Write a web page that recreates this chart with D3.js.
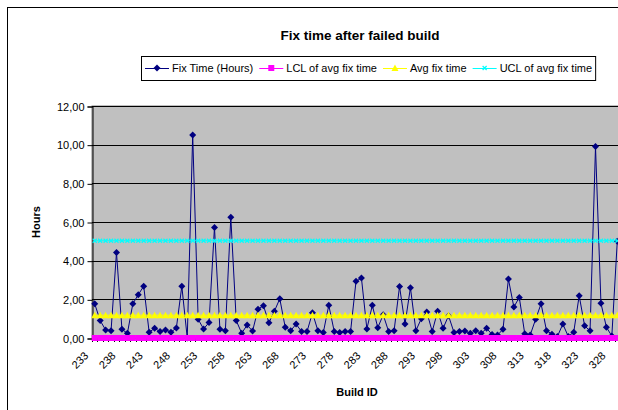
<!DOCTYPE html>
<html>
<head>
<meta charset="utf-8">
<script src="https://cdn.jsdelivr.net/npm/d3@7"></script>
<style>
  html, body { margin: 0; padding: 0; background: #fff; }
  svg { display: block; font-family: "Liberation Sans", Arial, sans-serif; }
</style>
</head>
<body>
<svg id="chart" width="618" height="410"></svg>
<script>
// Build IDs 233..329
const buildIds = d3.range(233, 330);

// Hours needed to fix each failed build
const fixHours = [
  1.77, 0.90, 0.42, 0.38, 4.42, 0.45, 0.24, 1.77, 2.24, 2.68,
  0.30, 0.50, 0.33, 0.42, 0.30, 0.52, 2.68, 0.00, 10.50, 0.97,
  0.47, 0.80, 5.72, 0.45, 0.38, 6.24, 0.90, 0.25, 0.67, 0.36,
  1.49, 1.67, 0.79, 1.38, 2.03, 0.55, 0.38, 0.72, 0.33, 0.33,
  1.30, 0.38, 0.29, 1.69, 0.34, 0.29, 0.33, 0.33, 2.93, 3.10,
  0.47, 1.69, 0.53, 1.20, 0.33, 0.38, 2.67, 0.72, 2.60, 0.38,
  1.00, 1.35, 0.34, 1.38, 0.50, 1.15, 0.29, 0.33, 0.36, 0.24,
  0.38, 0.24, 0.50, 0.18, 0.15, 0.45, 3.05, 1.60, 2.10, 0.22,
  0.15, 0.97, 1.77, 0.38, 0.20, 0.08, 0.72, 0.08, 0.30, 2.19,
  0.63, 0.37, 9.90, 1.80, 0.56, 0.10, 5.00
];

// Control limits (constant across builds)
const lclValue = 0.00;
const avgValue = 1.18;
const uclValue = 5.03;

const yTicks = [0, 2, 4, 6, 8, 10, 12];
const xLabelEvery = 5;

const seriesNames = ["Fix Time (Hours)", "LCL of avg fix time", "Avg fix time", "UCL of avg fix time"];
const seriesColors = ["#000080", "#FF00FF", "#FFFF00", "#00FFFF"];

const svg = d3.select("#chart");

// Chart frame
svg.append("rect")
  .attr("x", 7.5).attr("y", 7.5)
  .attr("width", 700).attr("height", 500)
  .attr("fill", "#fff").attr("stroke", "#000").attr("stroke-width", 1);

const plot = { left: 92, right: 620, top: 106, bottom: 338 };

const x = d3.scaleBand().domain(buildIds).range([plot.left, plot.right]).paddingInner(0).paddingOuter(0);
const cx = d => x(d) + x.bandwidth() / 2;
const y = d3.scaleLinear().domain([0, 12]).range([plot.bottom, plot.top]);

// Plot area
svg.append("rect")
  .attr("x", plot.left).attr("y", plot.top)
  .attr("width", plot.right - plot.left).attr("height", plot.bottom - plot.top)
  .attr("fill", "#C0C0C0").attr("stroke", "#808080").attr("stroke-width", 1);

// Horizontal gridlines
svg.append("g").selectAll("line")
  .data(yTicks.filter(t => t > 0))
  .join("line")
  .attr("x1", plot.left).attr("x2", plot.right)
  .attr("y1", d => Math.round(y(d)) + 0.5).attr("y2", d => Math.round(y(d)) + 0.5)
  .attr("stroke", "#000").attr("stroke-width", 1);

// Y axis
const yAxis = d3.axisLeft(y)
  .tickValues(yTicks)
  .tickSize(5)
  .tickPadding(3)
  .tickFormat(d => d3.format(".2f")(d).replace(".", ","));
const gy = svg.append("g")
  .attr("transform", `translate(${plot.left + 0.5},0.5)`)
  .call(yAxis);
gy.select(".domain").attr("stroke", "#000");
gy.selectAll(".tick line").attr("stroke", "#000");
gy.selectAll(".tick text").attr("font-size", 11).attr("fill", "#000")
  .attr("font-family", "Liberation Sans, Arial, sans-serif");

// X axis line and ticks at category boundaries
const gx = svg.append("g");
gx.append("line")
  .attr("x1", plot.left).attr("x2", plot.right)
  .attr("y1", plot.bottom + 0.5).attr("y2", plot.bottom + 0.5)
  .attr("stroke", "#000");
gx.selectAll("line.tick")
  .data(buildIds)
  .join("line")
  .attr("class", "tick")
  .attr("x1", d => Math.round(x(d)) + 0.5).attr("x2", d => Math.round(x(d)) + 0.5)
  .attr("y1", plot.bottom).attr("y2", plot.bottom + 4)
  .attr("stroke", "#000");
gx.selectAll("text")
  .data(buildIds.filter((d, i) => i % xLabelEvery === 0))
  .join("text")
  .attr("transform", d => `translate(${cx(d) - 11},${plot.bottom + 13}) rotate(-45)`)
  .attr("text-anchor", "end")
  .attr("dy", "0.7em")
  .attr("font-size", 11)
  .text(d => d);

// Series data
const fixData = buildIds.map((b, i) => ({ b, v: fixHours[i] }));
const flat = v => buildIds.map(b => ({ b, v }));
const line = d3.line().x(d => cx(d.b)).y(d => y(d.v));

// Marker shapes
const diamond = "M0,-3.5L3.5,0L0,3.5L-3.5,0Z";
const square = "M-3,-3H3V3H-3Z";
const triangle = "M0,-3.5L3.5,3L-3.5,3Z";
const cross = "M-2,-2L2,2M-2,2L2,-2";

function drawSeries(data, color, shape, filled) {
  const g = svg.append("g");
  g.append("path").datum(data).attr("d", line)
    .attr("fill", "none").attr("stroke", color).attr("stroke-width", 1);
  g.selectAll("path.m").data(data).join("path")
    .attr("class", "m")
    .attr("d", shape)
    .attr("transform", d => `translate(${cx(d.b)},${y(d.v)})`)
    .attr("fill", filled ? color : "none")
    .attr("stroke", color)
    .attr("stroke-width", filled ? 0 : 1.2);
}

drawSeries(fixData, seriesColors[0], diamond, true);
drawSeries(flat(lclValue), seriesColors[1], square, true);
drawSeries(flat(avgValue), seriesColors[2], triangle, true);
drawSeries(flat(uclValue), seriesColors[3], cross, false);

// Title
svg.append("text")
  .attr("x", 360).attr("y", 40)
  .attr("text-anchor", "middle")
  .attr("font-size", 13.5).attr("font-weight", "bold")
  .text("Fix time after failed build");

// Axis titles
svg.append("text")
  .attr("transform", `translate(40,${(plot.top + plot.bottom) / 2}) rotate(-90)`)
  .attr("text-anchor", "middle")
  .attr("font-size", 11).attr("font-weight", "bold")
  .text("Hours");
svg.append("text")
  .attr("x", 357).attr("y", 396)
  .attr("text-anchor", "middle")
  .attr("font-size", 11).attr("font-weight", "bold")
  .text("Build ID");

// Legend
const legend = svg.append("g");
const shapes = [diamond, square, triangle, cross];
const legendLeft = 141;
const legendY = 68;
const symLen = 24;
let lx = legendLeft + 4;
seriesNames.forEach((name, i) => {
  const g = legend.append("g");
  g.append("line").attr("x1", lx).attr("x2", lx + symLen)
    .attr("y1", legendY + 0.5).attr("y2", legendY + 0.5)
    .attr("stroke", seriesColors[i]).attr("stroke-width", 1);
  g.append("path").attr("d", shapes[i])
    .attr("transform", `translate(${lx + symLen / 2},${legendY})`)
    .attr("fill", i === 3 ? "none" : seriesColors[i])
    .attr("stroke", seriesColors[i]).attr("stroke-width", i === 3 ? 1.2 : 0);
  const t = g.append("text").attr("x", lx + symLen + 3).attr("y", legendY + 4)
    .attr("font-size", 11).text(name);
  lx += symLen + 3 + t.node().getComputedTextLength() + 6;
});
legend.insert("rect", ":first-child")
  .attr("x", legendLeft + 0.5).attr("y", 56.5)
  .attr("width", lx - legendLeft - 3).attr("height", 24)
  .attr("fill", "#fff").attr("stroke", "#000");
</script>
</body>
</html>
